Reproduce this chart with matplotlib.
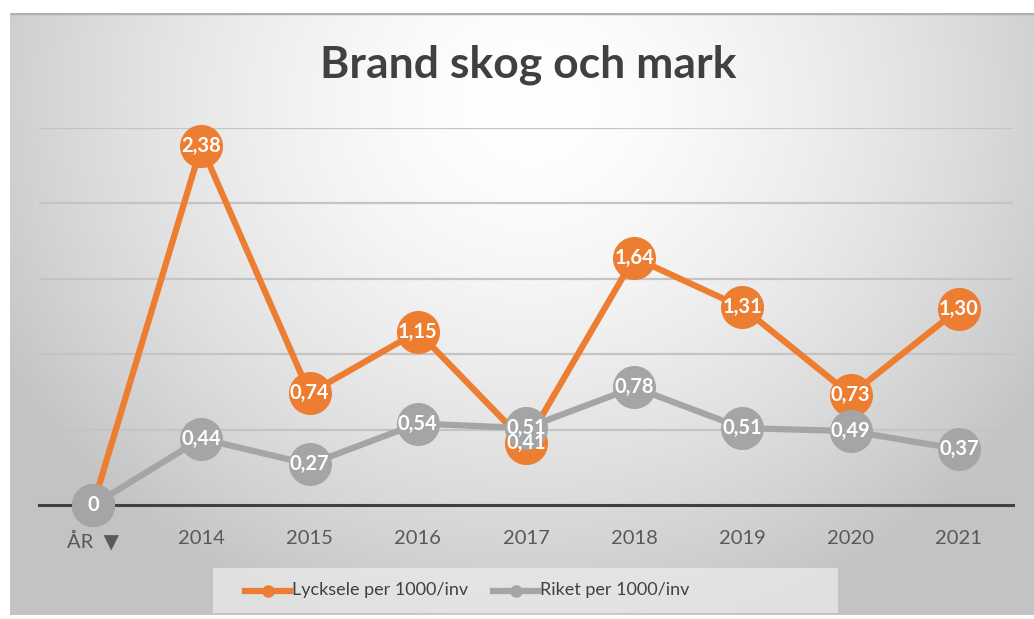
import numpy as np
import matplotlib
matplotlib.use("Agg")
import matplotlib.pyplot as plt

categories = ["ÅR  ▼", "2014", "2015", "2016", "2017", "2018", "2019", "2020", "2021"]
lycksele = [0, 2.38, 0.74, 1.15, 0.41, 1.64, 1.31, 0.73, 1.30]
riket = [0, 0.44, 0.27, 0.54, 0.51, 0.78, 0.51, 0.49, 0.37]
series_names = ["Lycksele per 1000/inv", "Riket per 1000/inv"]
title = "Brand skog och mark"

ORANGE = "#ED7D31"
GRAY = "#A5A5A5"
FONT = ["Lato", "DejaVu Sans"]

W, H = 1034, 619
fig = plt.figure(figsize=(W / 100, H / 100), dpi=100)
fig.patch.set_facecolor("white")

# background gradient panel
bg = fig.add_axes([10 / W, 4 / H, (W - 10) / W, (H - 4 - 13) / H])
bg.set_axis_off()
yy, xx = np.mgrid[0:600, 0:1024]
d = np.sqrt(((xx - 520) / 620.0) ** 2 + ((yy - 90) / 560.0) ** 2)
val = 255 - 62 * np.clip(d, 0, 1.2) ** 1.6
val = np.clip(val, 195, 255) / 255.0
img = np.dstack([val, val, val])
bg.imshow(img, aspect="auto", extent=[0, 1, 0, 1], origin="upper")
bg.set_xlim(0, 1)
bg.set_ylim(0, 1)
bg.plot([0, 1], [1, 1], color="#b0b0b0", lw=2.5, solid_capstyle="butt")

ax = fig.add_axes([39 / W, (H - 505) / H, (1013 - 39) / W, (505 - 128) / H])
ax.set_facecolor("none")
x = np.arange(len(categories))
ax.set_xlim(-0.5, len(categories) - 0.5)
ax.set_ylim(0, 2.5)
for s in ax.spines.values():
    s.set_visible(False)
for gy in [0.5, 1.0, 1.5, 2.0, 2.5]:
    ax.axhline(gy, color="#c4c4c4", lw=1.6, zorder=1)
ax.axhline(0, color="#404040", lw=2.2, zorder=1.5, clip_on=False)
ax.set_yticks([])
ax.set_xticks(x)
ax.set_xticklabels(categories, fontsize=14.5, color="#595959", family=FONT)
ax.tick_params(axis="x", length=0, pad=18)

ax.plot(x, lycksele, color=ORANGE, lw=4.5, marker="o", markersize=31,
        markeredgewidth=0, zorder=3, clip_on=False)
ax.plot(x, riket, color=GRAY, lw=4.5, marker="o", markersize=31,
        markeredgewidth=0, zorder=4, clip_on=False)

def fmt(v):
    return ("%.2f" % v).replace(".", ",") if v != 0 else "0"

for xi, v in zip(x, lycksele):
    if v == 0:
        continue
    ax.text(xi, v, fmt(v), ha="center", va="center", color="white",
            fontsize=14.5, fontweight="bold", family=FONT, zorder=5)
for xi, v in zip(x, riket):
    ax.text(xi, v, fmt(v), ha="center", va="center", color="white",
            fontsize=14.5, fontweight="bold", family=FONT, zorder=6)

fig.text(528 / W, 1 - 65 / H, title, ha="center", va="center",
         fontsize=32, fontweight="bold", color="#404040", family=FONT)

# legend
lg = fig.add_axes([213 / W, (H - 613) / H, (838 - 213) / W, (613 - 568) / H])
lg.set_xlim(0, 625)
lg.set_ylim(0, 45)
lg.set_facecolor((0.93, 0.93, 0.93, 0.7))
for s in lg.spines.values():
    s.set_visible(False)
lg.set_xticks([])
lg.set_yticks([])
lg.plot([32, 77], [22.5, 22.5], color=ORANGE, lw=4.5)
lg.plot([54.5], [22.5], "o", color=ORANGE, markersize=8)
lg.text(79, 22.5, series_names[0], ha="left", va="center", fontsize=13,
        color="#404040", family=FONT)
lg.plot([280, 325], [22.5, 22.5], color=GRAY, lw=4.5)
lg.plot([302.5], [22.5], "o", color=GRAY, markersize=8)
lg.text(327, 22.5, series_names[1], ha="left", va="center", fontsize=13,
        color="#404040", family=FONT)

fig.savefig("out.png", dpi=100)
